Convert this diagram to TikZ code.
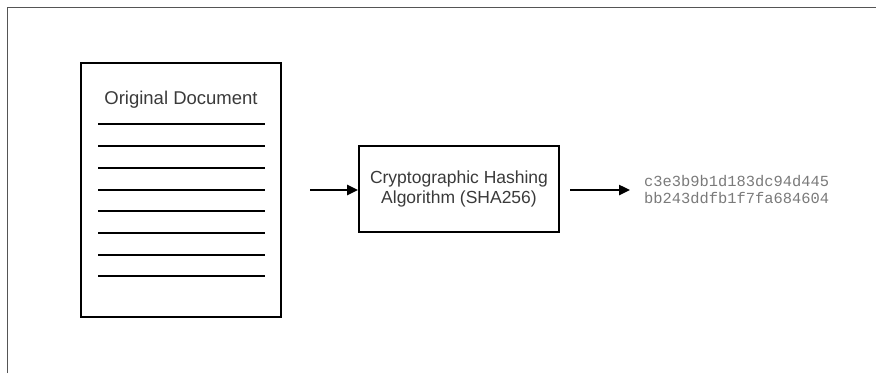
\documentclass[tikz,border=0pt]{standalone}
\usepackage{fontspec}
\setmainfont{Liberation Sans}
\newfontfamily\hashfont{Liberation Mono}
\usetikzlibrary{arrows.meta}
\definecolor{txtgray}{HTML}{3A3A3A}
\definecolor{hashgray}{HTML}{7A7A7A}
\definecolor{framegray}{HTML}{555555}
\tikzset{
  boxstyle/.style={draw=black, line width=1.8pt, rectangle, inner sep=0pt},
  docline/.style={draw=black, line width=2pt},
  flowarrow/.style={draw=black, line width=2.4pt, -{Triangle[length=11pt,width=10pt]}},
  sanstext/.style={text=txtgray, font=\fontsize{17.5}{20}\selectfont, align=center, inner sep=0pt},
  hashtext/.style={text=hashgray, font=\hashfont\fontsize{15.4}{17}\selectfont, align=left, inner sep=0pt, anchor=west}
}
\begin{document}
\begin{tikzpicture}[x=1pt,y=-1pt]
\useasboundingbox (0,0) rectangle (876,373);
% frame
\draw[framegray, line width=1pt] (7.5,373) -- (7.5,7) -- (876,7);
% document
\node[boxstyle, minimum width=200pt, minimum height=254pt] (doc) at (181,190) {};
\node[sanstext, font=\fontsize{18.5}{21}\selectfont] (doctitle) at (181,100) {Original Document};
\foreach \yy in {124,146,168,190,211,233,255,276} {
  \draw[docline] (98,\yy) -- (265,\yy);
}
% hash box
\node[boxstyle, minimum width=200pt, minimum height=86pt] (hash) at (459,189) {};
\node[sanstext] (hashlabel) at (459,189) {Cryptographic Hashing\\Algorithm (SHA256)};
% output
\node[hashtext] (out) at (644,189.5) {c3e3b9b1d183dc94d445\\bb243ddfb1f7fa684604};
% arrows
\coordinate (a1s) at (310,190);
\coordinate (a2s) at (570,190);
\coordinate (a2e) at (630,190);
\draw[flowarrow] (a1s) -- (hash.west |- a1s);
\draw[flowarrow] (a2s) -- (a2e);
\end{tikzpicture}
\end{document}
